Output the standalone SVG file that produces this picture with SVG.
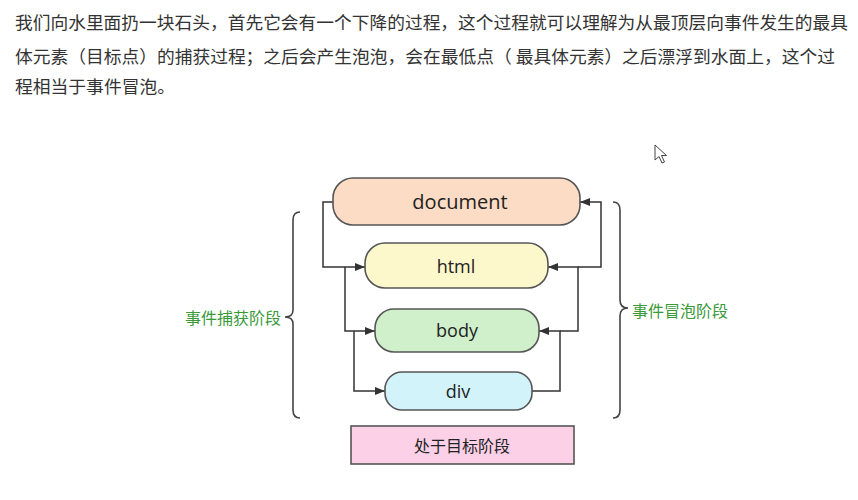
<svg xmlns="http://www.w3.org/2000/svg" width="858" height="500" viewBox="0 0 858 500">
<defs>
<marker id="arr" markerWidth="10" markerHeight="8" refX="10" refY="4" orient="auto" markerUnits="userSpaceOnUse">
<path d="M0,0 L10,4 L0,8 Z" fill="#333"/>
</marker>
<style>
.para{font-family:"Noto Sans CJK SC","Noto Sans",sans-serif;font-size:17.5px;fill:#333}
.node rect{stroke:#555;stroke-width:1.6}
.lbl{font-family:"Open Sans","Noto Sans",sans-serif;fill:#222;text-anchor:middle;dominant-baseline:central}
.cn{font-family:"Noto Sans CJK SC",sans-serif;text-anchor:middle;dominant-baseline:central}
.phase{font-family:"Noto Sans CJK SC",sans-serif;font-size:16px;fill:#3a9a3a;dominant-baseline:central}
.wire{fill:none;stroke:#333;stroke-width:1.5}
.brace{fill:none;stroke:#444;stroke-width:1.6}
</style>
</defs>
<rect width="858" height="500" fill="#fff"/>
<g id="paragraph">
<text class="para" x="15" y="29" textLength="833" lengthAdjust="spacingAndGlyphs">我们向水里面扔一块石头，首先它会有一个下降的过程，这个过程就可以理解为从最顶层向事件发生的最具</text>
<text class="para" x="15" y="63" textLength="820" lengthAdjust="spacingAndGlyphs">体元素（目标点）的捕获过程；之后会产生泡泡，会在最低点（ 最具体元素）之后漂浮到水面上，这个过</text>
<text class="para" x="15" y="93" textLength="160" lengthAdjust="spacingAndGlyphs">程相当于事件冒泡。</text>
</g>
<g id="connectors">
<path class="wire" d="M333,202 H323 V267 H365" marker-end="url(#arr)"/>
<path class="wire" d="M345,267 V331 H375" marker-end="url(#arr)"/>
<path class="wire" d="M354,331 V391 H385" marker-end="url(#arr)"/>
<path class="wire" d="M532,391 H560 V331 H539" marker-end="url(#arr)"/>
<path class="wire" d="M560,331 H578 V267 H548" marker-end="url(#arr)"/>
<path class="wire" d="M578,267 H601 V202 H580" marker-end="url(#arr)"/>
</g>
<g id="document" class="node">
<rect x="333" y="178" width="247" height="47" rx="20" fill="#fcdcc4"/>
<text class="lbl" x="460" y="201" font-size="20">document</text>
</g>
<g id="html" class="node">
<rect x="365" y="243" width="183" height="45" rx="20" fill="#fdf8cc"/>
<text class="lbl" x="456" y="266" font-size="18">html</text>
</g>
<g id="body" class="node">
<rect x="375" y="309" width="164" height="43" rx="19" fill="#cff0cb"/>
<text class="lbl" x="457" y="330" font-size="18">body</text>
</g>
<g id="div" class="node">
<rect x="385" y="372" width="147" height="38" rx="17" fill="#d3f3fb"/>
<text class="lbl" x="458" y="391" font-size="18">div</text>
</g>
<g id="target" class="node">
<rect x="351" y="426" width="223" height="38" fill="#fcd0e6"/>
<text class="cn" x="462" y="445" font-size="16" fill="#222">处于目标阶段</text>
</g>
<g id="capture">
<path class="brace" d="M300,212 Q293,212 293,220 L293,310 Q293,317 285,317 Q293,317 293,324 L293,410 Q293,418 300,418"/>
<text class="phase" x="185" y="317">事件捕获阶段</text>
</g>
<g id="bubble">
<path class="brace" d="M613,202 Q620,202 620,210 L620,300 Q620,308 628,308 Q620,308 620,316 L620,410 Q620,418 613,418"/>
<text class="phase" x="632" y="310">事件冒泡阶段</text>
</g>
<path d="M655,145 L655,160 L659,156.5 L662,163 L664.5,162 L661.5,155.5 L666.5,155.5 Z" fill="#fff" stroke="#444" stroke-width="1"/>
</svg>
